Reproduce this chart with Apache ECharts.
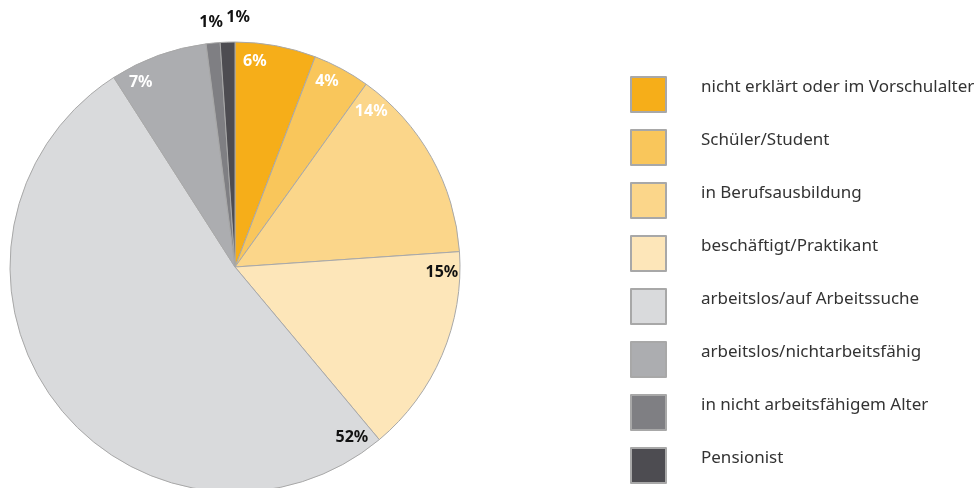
<!DOCTYPE html>
<html>
<head>
<meta charset="utf-8">
<script src="https://cdn.jsdelivr.net/npm/echarts@6/dist/echarts.min.js"></script>
<style>
html,body{margin:0;padding:0;background:#fff;}
#chart{width:977px;height:488px;}
</style>
</head>
<body>
<div id="chart"></div>
<script>
const categories = [
  'nicht erklärt oder im Vorschulalter',
  'Schüler/Student',
  'in Berufsausbildung',
  'beschäftigt/Praktikant',
  'arbeitslos/auf Arbeitssuche',
  'arbeitslos/nichtarbeitsfähig',
  'in nicht arbeitsfähigem Alter',
  'Pensionist'
];
const values = [5.8, 4.1, 14, 15, 52, 7, 1, 1.05];

const sliceColors = ['#F6AE19','#F9C65B','#FBD68A','#FDE6B9','#D9DADC','#ACADB0','#7F7F83','#4D4C51'];
const labelColors = ['#ffffff','#ffffff','#ffffff','#111111','#111111','#ffffff','#111111','#111111'];

const CX = 235, CY = 267, R = 225;
const total = values.reduce((a, b) => a + b, 0);

const chart = echarts.init(document.getElementById('chart'), null, {renderer: 'canvas'});
chart.setOption({
  animation: false,
  legend: {
    orient: 'vertical',
    left: 630,
    top: 76,
    padding: 0,
    icon: 'rect',
    itemWidth: 35,
    itemHeight: 35,
    itemGap: 16,
    selectedMode: false,
    formatter: name => '{t|' + name + '}\n{s| }',
    textStyle: {
      padding: [0, 0, 0, 30],
      rich: {
        t: {fontFamily: 'Noto Sans', fontSize: 17, lineHeight: 20, color: '#333'},
        s: {fontSize: 1, lineHeight: 15}
      }
    },
    data: categories
  },
  series: [{
    type: 'pie',
    center: [CX, CY],
    radius: [0, R],
    startAngle: 90,
    clockwise: true,
    silent: true,
    itemStyle: {borderColor: '#a8a8a8', borderWidth: 1},
    label: {
      show: true,
      position: 'inside',
      fontFamily: 'Noto Sans',
      fontWeight: 'bold',
      fontSize: 16,
      formatter: p => Math.round(p.percent) + '%'
    },
    labelLine: {show: false},
    labelLayout: function (p) {
      const i = p.dataIndex;
      let before = 0;
      for (let k = 0; k < i; k++) before += values[k];
      const start = before / total * 360;
      const frac = values[i] / total;
      let ang, dist;
      if (frac < 0.02) {
        let k = 0;
        for (let j = i - 1; j >= 0 && values[j] / total < 0.02; j--) k++;
        ang = start + frac * 180 + 2.6 * k;
        dist = (1.09 + 0.02 * k) * R;
      } else {
        ang = start + 5.5;
        dist = 0.92 * R;
      }
      const rad = ang * Math.PI / 180;
      return {
        x: CX + dist * Math.sin(rad),
        y: CY - dist * Math.cos(rad),
        align: 'center',
        verticalAlign: 'middle'
      };
    },
    data: categories.map((name, i) => ({
      name: name,
      value: values[i],
      itemStyle: {color: sliceColors[i]},
      label: {color: labelColors[i]}
    }))
  }]
});
</script>
</body>
</html>
